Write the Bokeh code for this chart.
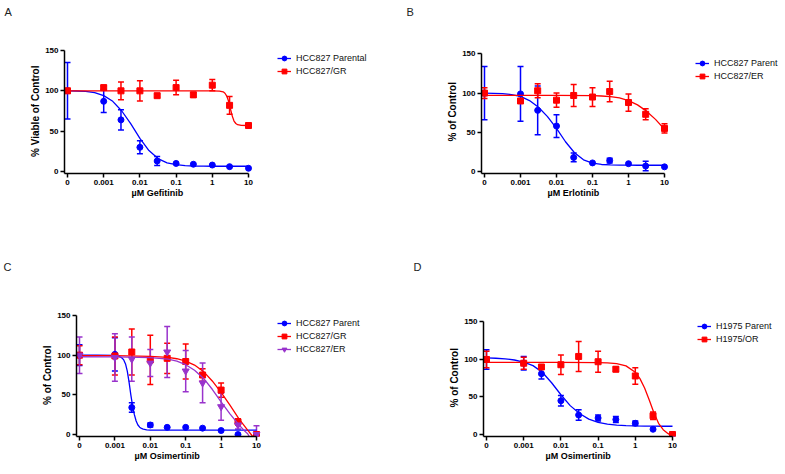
import numpy as np
from bokeh.plotting import figure
from bokeh.models import (Range1d, FixedTicker, Whisker, TeeHead, ColumnDataSource,
                          Legend, LegendItem, Title)
from bokeh.layouts import column, row
from bokeh.embed import file_html
from bokeh.resources import INLINE

# ---------------- data ----------------
dose = [0, 0.001, 0.003, 0.01, 0.03, 0.1, 0.3, 1, 3, 10]
tick_vals = [-4, -3, -2, -1, 0, 1]
tick_labels = ["0", "0.001", "0.01", "0.1", "1", "10"]
y_ticks = [0, 50, 100, 150]
grid = [-4, -3.75, -3.5, -3.25, -3, -2.75, -2.5, -2.25, -2, -1.75, -1.5,
        -1.25, -1, -0.75, -0.5, -0.25, 0, 0.25, 0.5, 0.75, 1]

# Panel A: Gefitinib
a_par_mean = [100, 87, 64, 30, 13, 10, 9, 8, 6, 4]
a_par_sd = [35, 14, 12.5, 8, 5.5, 1, 1, 1, 1, 1]
a_gr_mean = [100, 104, 100, 100, 94, 104, 95, 107, 82, 57]
a_gr_sd = [3, 2, 11, 12.5, 2, 9, 3, 7, 11, 1]
a_par_fit_x = grid
a_par_fit = [100, 99.8, 99.3, 97.8, 94, 87, 75, 59, 41, 26, 16, 10.8, 8.4, 7.3,
             6.8, 6.6, 6.5, 6.5, 6.5, 6.5, 6.5]
a_gr_fit_x = [-4, -2, 0, 0.2, 0.3, 0.35, 0.4, 0.45, 0.5, 0.55, 0.6, 0.65, 0.7, 0.8, 1]
a_gr_fit = [100, 100, 100, 99.7, 98.8, 97, 93.5, 87, 78, 69, 62.5, 59.5, 58, 57.2, 57]

# Panel B: Erlotinib
b_par_mean = [100, 99, 78, 58, 18, 11, 14, 10, 7, 6]
b_par_sd = [34, 35, 31, 14.5, 5.5, 1, 3, 1, 6, 1]
b_er_mean = [100, 90, 103, 91, 97, 95, 102, 88, 73, 55]
b_er_sd = [7, 1, 9, 9, 14, 12, 13, 11, 7, 6]
b_par_fit_x = grid
b_par_fit = [100, 99.8, 99.3, 98.2, 95.8, 90.5, 82, 70, 55, 38, 24, 15, 10.8, 9,
             8.4, 8.2, 8.1, 8, 8, 8, 8]
b_er_fit_x = [-4, -2, -1, -0.75, -0.5, -0.25, 0, 0.25, 0.5, 0.75, 1]
b_er_fit = [97, 97, 96.7, 96.3, 95.5, 93.8, 90.5, 85, 77, 66.5, 54]

# Panel C: Osimertinib (HCC827)
c_par_mean = [100, 101, 34, 12, 9, 9, 8, 5, 0, 0]
c_par_sd = [13, 21, 6, 2.5, 1, 1, 1, 1, 1, 1]
c_gr_mean = [100, 99, 104, 94, 96, 92, 75, 56, 16, 0]
c_gr_sd = [12, 24, 29, 31, 19, 22, 8, 9, 4, 1]
c_er_mean = [100, 97, 95, 90, 104, 80, 65, 35, 12, 0]
c_er_sd = [23, 30, 28, 17, 32, 26, 25, 17, 5, 11]
c_par_fit_x = [-4, -3.5, -3, -2.9, -2.8, -2.75, -2.7, -2.65, -2.6, -2.55, -2.5, -2.45,
               -2.4, -2.35, -2.3, -2.25, -2.2, -2.1, -2, -1.5, -1, 0, 1]
c_par_fit = [100, 100, 99.6, 98.8, 96.5, 94, 89, 80, 66, 50, 36, 25, 17, 12, 9.2,
             7.6, 6.7, 5.9, 5.6, 5.5, 5.5, 5.5, 5.5]
c_gr_fit_x = [-4, -3, -2, -1.5, -1.25, -1, -0.75, -0.5, -0.25, 0, 0.25, 0.5, 0.75, 0.85, 0.9]
c_gr_fit = [99.5, 99.3, 98.6, 97.2, 95.5, 92.5, 87.5, 79.5, 67.5, 53, 37, 20, 5.5, 0, -3]
c_er_fit_x = [-4, -3, -2, -1.5, -1.25, -1, -0.75, -0.5, -0.25, 0, 0.25, 0.5, 0.65, 0.75, 0.8]
c_er_fit = [98, 97.8, 97, 95, 92.5, 88, 81, 71, 57, 41, 26, 12.5, 5, 1, -3]

# Panel D: Osimertinib (H1975)
d_par_mean = [100, 95, 81, 45, 26, 22, 20, 15, 7, 0]
d_par_sd = [13, 9, 7, 7, 7, 4, 4, 3, 0.5, 0.5]
d_or_mean = [100, 95, 90, 93, 104, 97, 87, 78, 25, 0]
d_or_sd = [11, 8, 2, 13, 20, 14, 3, 11, 5, 0.5]
d_par_fit_x = grid
d_par_fit = [102, 101.6, 100.8, 99.3, 96.6, 91.8, 83, 69, 53, 38.5, 28, 20.5, 16.3,
             13.8, 12.5, 11.8, 11.4, 11.2, 11.1, 11, 11]
d_or_fit_x = [-4, -2, -1, -0.75, -0.5, -0.25, 0, 0.125, 0.25, 0.375, 0.5, 0.625,
              0.75, 0.875, 0.95, 1]
d_or_fit = [96, 96, 95.8, 95.5, 94.5, 91.5, 83, 74.5, 62, 46, 29, 15, 6.5, 1.5, -1, -3]

BLUE = "#0000ff"
RED = "#ff0000"
PURPLE = "#9933cc"
FONT = "Liberation Sans"

logdose = [-4.0 if d == 0 else float(np.log10(d)) for d in dose]


def set_standoff(t, v):
    try:
        t.standoff = v
    except Exception:
        pass


def make_panel(ox, oy, W, H, x0, x10, y150, y0, top, valign, xlabel, xlabel_left,
               ylabel, ylabel_len, letter, letter_x, series, leg_x, leg_y):
    dec = (x10 - x0) / 5.0
    unit = (y0 - y150) / 150.0
    mbl = int(round(x0 - 0.08 * dec - ox))
    fl_r = ox + mbl
    fr_r = ox + W
    fb_r = int(round(y0 + 2.5 * unit))
    mbb = oy + H - fb_r
    ft_r = oy + top
    xr0 = -4 - (x0 - fl_r) / dec
    xr1 = 1 + (fr_r - x10) / dec
    yr0 = -(fb_r - y0) / unit
    yr1 = 150 + (y150 - ft_r) / unit

    p = figure(width=W, height=H, x_range=Range1d(xr0, xr1), y_range=Range1d(yr0, yr1),
               output_backend="svg", toolbar_location=None, title=letter,
               min_border_left=mbl, min_border_right=0, min_border_top=top,
               min_border_bottom=mbb)
    p.outline_line_color = None
    p.xgrid.visible = False
    p.ygrid.visible = False
    p.title.align = "left"
    p.title.offset = letter_x - fl_r
    p.title.vertical_align = valign
    p.title.text_font = FONT
    p.title.text_font_size = "11px"
    p.title.text_font_style = "normal"
    p.title.text_color = "#222222"

    for ax in (p.xaxis[0], p.yaxis[0]):
        ax.axis_line_width = 1.5
        ax.axis_line_color = "black"
        ax.major_tick_line_width = 1.5
        ax.major_tick_line_color = "black"
        ax.major_tick_in = 0
        ax.major_tick_out = 4
        ax.minor_tick_line_color = None
        ax.major_label_text_font = FONT
        ax.major_label_text_font_style = "bold"
        ax.major_label_text_font_size = "8px"
        ax.major_label_text_color = "black"
    p.xaxis.ticker = FixedTicker(ticks=tick_vals)
    p.xaxis.major_label_overrides = {v: l for v, l in zip(tick_vals, tick_labels)}
    p.xaxis.bounds = (xr0, 1)
    p.xaxis.major_label_standoff = 2
    p.yaxis.ticker = FixedTicker(ticks=y_ticks)
    p.yaxis.bounds = (yr0, 150)
    p.yaxis.major_label_standoff = 2

    # axis titles, centred on the drawn axis (not on the whole frame)
    xt = Title(text=xlabel, align="left", offset=xlabel_left - fl_r, text_font=FONT,
               text_font_size="9px", text_font_style="bold", text_color="black",
               vertical_align="top")
    set_standoff(xt, 1)
    p.add_layout(xt, "below")
    yc = (y0 + y150) / 2.0
    yt = Title(text=ylabel, align="left", offset=fb_r - (yc + ylabel_len / 2.0),
               text_font=FONT, text_font_size="10px", text_font_style="bold",
               text_color="black")
    set_standoff(yt, 4)
    p.add_layout(yt, "left")

    items = []
    for label, mean, sd, fx, fy, color, marker, msize in series:
        lr = p.line(fx, fy, line_color=color, line_width=1.3)
        xs = [x for x, s in zip(logdose, sd) if s > 1.5]
        lo = [m - s for m, s in zip(mean, sd) if s > 1.5]
        hi = [m + s for m, s in zip(mean, sd) if s > 1.5]
        src = ColumnDataSource(dict(x=xs, lo=lo, hi=hi))
        w = Whisker(source=src, base="x", lower="lo", upper="hi", dimension="height",
                    line_color=color, line_width=1.5,
                    upper_head=TeeHead(size=6, line_color=color, line_width=1.5),
                    lower_head=TeeHead(size=6, line_color=color, line_width=1.5))
        p.add_layout(w)
        sr = p.scatter(logdose, mean, marker=marker, size=msize, fill_color=color,
                       line_color=color)
        items.append(LegendItem(label=label, renderers=[lr, sr]))

    n = len(items)
    leg_h = 12 * n + (n - 1) * 1
    leg_bottom = leg_y - 6 + leg_h
    legend = Legend(items=items, location=(leg_x - fl_r, fb_r - leg_bottom),
                    orientation="vertical", glyph_width=14, glyph_height=12,
                    label_height=12, label_standoff=5, spacing=1, padding=0, margin=0,
                    border_line_color=None, background_fill_alpha=0,
                    label_text_font=FONT, label_text_font_size="9px",
                    label_text_color="#111111")
    p.add_layout(legend)
    return p


pA = make_panel(0, 0, 400, 232, 67, 248, 50, 171, 24, "top", "µM Gefitinib", 131,
                "% Viable of Control", 92, "A", 4,
                [("HCC827 Parental", a_par_mean, a_par_sd, a_par_fit_x, a_par_fit, BLUE, "circle", 6),
                 ("HCC827/GR", a_gr_mean, a_gr_sd, a_gr_fit_x, a_gr_fit, RED, "square", 6)],
                277, 58)
pB = make_panel(400, 0, 384, 232, 484, 664, 54, 174, 24, "top", "µM Erlotinib", 547,
                "% of Control", 60, "B", 406,
                [("HCC827 Parent", b_par_mean, b_par_sd, b_par_fit_x, b_par_fit, BLUE, "circle", 6),
                 ("HCC827/ER", b_er_mean, b_er_sd, b_er_fit_x, b_er_fit, RED, "square", 6)],
                695, 66)
pC = make_panel(0, 232, 400, 241, 79, 256, 315, 434, 45, "bottom", "µM Osimertinib", 134,
                "% of Control", 60, "C", 3,
                [("HCC827 Parent", c_par_mean, c_par_sd, c_par_fit_x, c_par_fit, BLUE, "circle", 6),
                 ("HCC827/GR", c_gr_mean, c_gr_sd, c_gr_fit_x, c_gr_fit, RED, "square", 6),
                 ("HCC827/ER", c_er_mean, c_er_sd, c_er_fit_x, c_er_fit, PURPLE, "inverted_triangle", 7)],
                277, 323)
pD = make_panel(400, 232, 384, 241, 486, 672, 320, 434, 43, "bottom", "µM Osimertinib", 545,
                "% of Control", 60, "D", 413,
                [("H1975 Parent", d_par_mean, d_par_sd, d_par_fit_x, d_par_fit, BLUE, "circle", 6),
                 ("H1975/OR", d_or_mean, d_or_sd, d_or_fit_x, d_or_fit, RED, "square", 6)],
                697, 326)

layout = column(row(pA, pB), row(pC, pD))
open("out.html", "w").write(file_html(layout, INLINE))
